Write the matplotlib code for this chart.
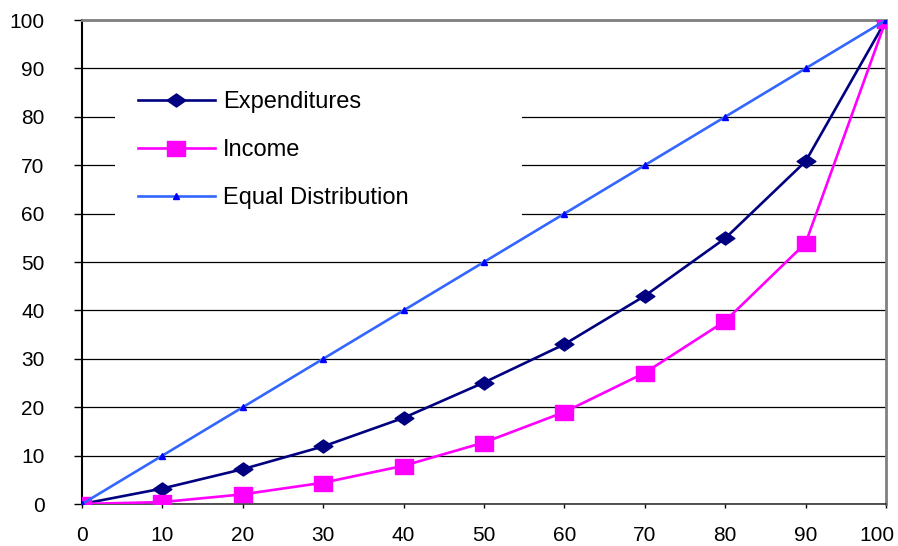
import matplotlib
matplotlib.use('Agg')
import matplotlib.pyplot as plt
from matplotlib.path import Path
from matplotlib.patches import Rectangle
from matplotlib.transforms import ScaledTranslation

# Lorenz curve data, cumulative % of households vs cumulative % share
pct_households = [0, 10, 20, 30, 40, 50, 60, 70, 80, 90, 100]
expenditures = [0, 3.2, 7.2, 11.9, 17.8, 25.1, 33.0, 43.0, 54.9, 70.8, 100]
income = [0, 0.4, 2.0, 4.4, 7.9, 12.7, 19.0, 27.1, 37.8, 53.9, 100]
equal_dist = [0, 10, 20, 30, 40, 50, 60, 70, 80, 90, 100]
x_ticks = list(range(0, 101, 10))
y_ticks = list(range(0, 101, 10))

plt.rcParams['font.family'] = ['Liberation Sans', 'DejaVu Sans']

# flattened diamond / square markers like the spreadsheet ones
diamond = Path([(-1, 0), (0, 0.7), (1, 0), (0, -0.7), (-1, 0)],
               [Path.MOVETO, Path.LINETO, Path.LINETO, Path.LINETO, Path.CLOSEPOLY])
square = Path([(-1, -0.8), (1, -0.8), (1, 0.8), (-1, 0.8), (-1, -0.8)],
              [Path.MOVETO, Path.LINETO, Path.LINETO, Path.LINETO, Path.CLOSEPOLY])

fig = plt.figure(figsize=(8.98, 5.46), dpi=100)
ax = fig.add_axes([82 / 898, 42 / 546, 804 / 898, 484 / 546])

ax.plot(pct_households, expenditures, color='#000080', lw=1.9, marker=diamond,
        ms=13.5, mfc='#000080', mec='#000080', label='Expenditures', zorder=3)
ax.plot(pct_households, income, color='#FF00FF', lw=1.9, marker=square,
        ms=13.5, mfc='#FF00FF', mec='#FF00FF', label='Income', zorder=3)
ax.plot(pct_households, equal_dist, color='#3366FF', lw=1.9, marker='^',
        ms=5, mfc='#0000FF', mec='#0000FF', label='Equal Distribution', zorder=4)

ax.set_xlim(0, 100)
ax.set_ylim(0, 100)
ax.set_xticks(x_ticks)
ax.set_yticks(y_ticks)
ax.tick_params(axis='y', direction='out', length=6, width=1, pad=21, labelsize=15)
ax.tick_params(axis='x', direction='out', length=3, width=1, pad=13, labelsize=15)

# keep the last x label inside the figure
last = ax.get_xticklabels()[-1]
last.set_horizontalalignment('right')
last.set_transform(last.get_transform() + ScaledTranslation(8 / 100, 0, fig.dpi_scale_trans))

ax.set_axisbelow(True)
ax.yaxis.grid(True, color='#000000', lw=0.9)
ax.xaxis.grid(False)

ax.spines['top'].set_color('#808080')
ax.spines['top'].set_linewidth(2)
ax.spines['right'].set_color('#808080')
ax.spines['right'].set_linewidth(2)
ax.spines['left'].set_color('#000000')
ax.spines['left'].set_linewidth(1.5)
ax.spines['bottom'].set_color('#333333')
ax.spines['bottom'].set_linewidth(1.2)

# white legend area hides the gridlines behind it
ax.add_patch(Rectangle((0.041, 0.55), 0.506, 0.335, transform=ax.transAxes,
                       facecolor='white', edgecolor='none', zorder=1))

ax.legend(loc='upper left', bbox_to_anchor=(0.055, 0.878), frameon=False,
          fontsize=17, handlelength=3.25, handletextpad=0.35, labelspacing=1.1,
          borderpad=0)

fig.savefig('out.png', dpi=100)
